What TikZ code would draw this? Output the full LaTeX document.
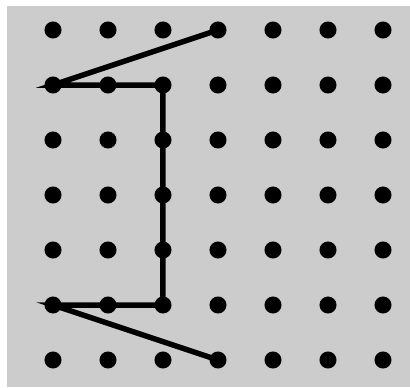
\documentclass[tikz,border=0pt]{standalone}
\usetikzlibrary{positioning}

\begin{document}
\begin{tikzpicture}[
    dot/.style={
      circle, fill=black, inner sep=0pt, minimum size=0.31cm,
    },
    route/.style={line width=0.1cm, black, line join=miter},
]

% Frame and grey board
\useasboundingbox (-0.9636,-0.4909) rectangle (6.4909,6.5455);
\fill[black!20] (-0.836,-0.4909) rectangle (6.4909,6.436);

% Grid of pegs, 7 x 7
\foreach \c in {1,...,7}
  \foreach \r in {1,...,7}
    \node[dot] (p-\c-\r) at (\c-1, 7-\r) {};

% The traced path
\draw[route] (p-4-1.center) -- (p-1-2.center) -- (p-3-2.center)
  -- (p-3-6.center) -- (p-1-6.center) -- (p-4-7.center);
\end{tikzpicture}
\end{document}
